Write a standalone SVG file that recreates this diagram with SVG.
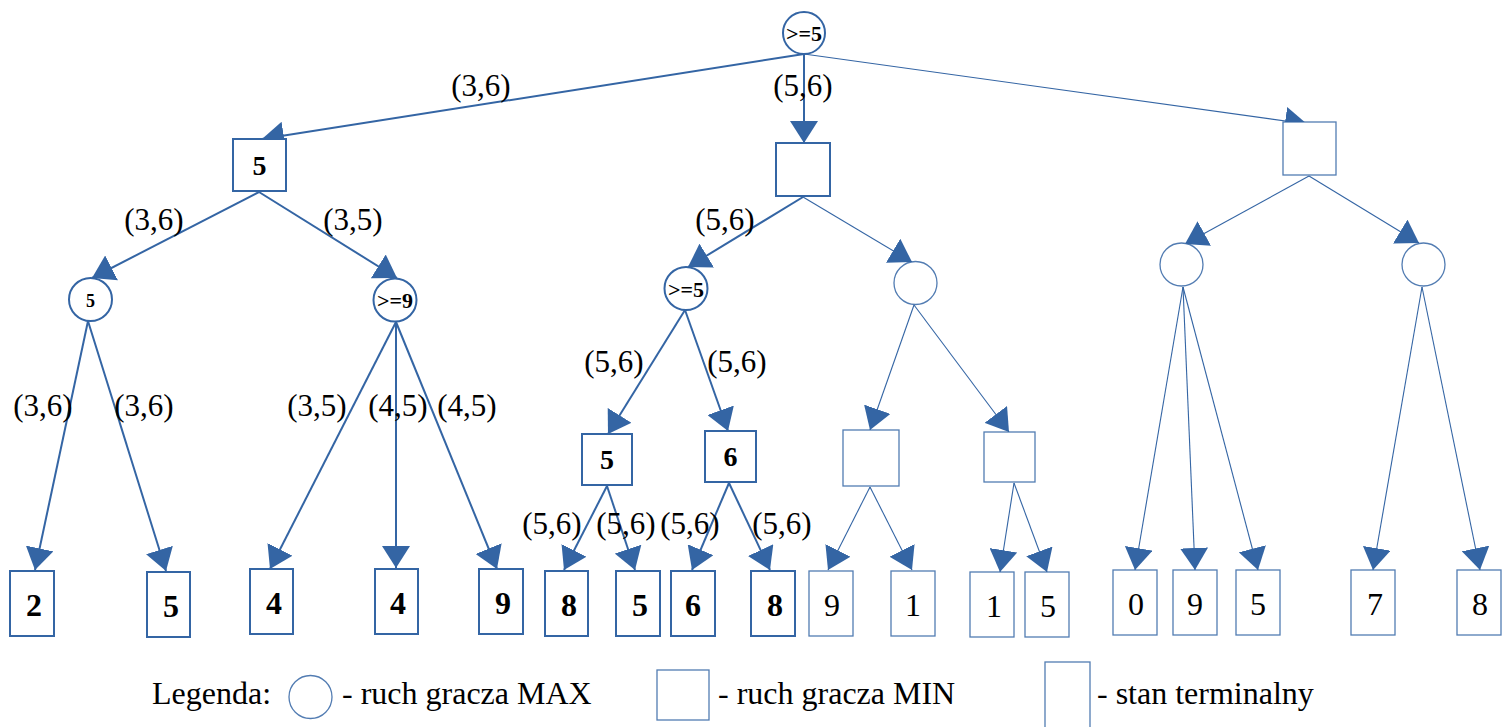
<svg xmlns="http://www.w3.org/2000/svg" width="1512" height="727" viewBox="0 0 1512 727">
<style>
.e{stroke:#3465a4;stroke-width:2;fill:none;marker-end:url(#ah)}
.et{stroke:#3465a4;stroke-width:1.1;fill:none;marker-end:url(#ah)}
.n{fill:#fff;stroke:#3465a4;stroke-width:2}
.nt{fill:#fff;stroke:#3465a4;stroke-width:1.3;stroke-opacity:0.85}
.lb{font-family:"Liberation Serif",serif;font-size:31px;fill:#000;text-anchor:middle}
.bn{font-family:"Liberation Serif",serif;font-size:28px;font-weight:bold;fill:#000;text-anchor:middle}
.cn{font-family:"Liberation Serif",serif;font-size:22px;font-weight:bold;fill:#000;text-anchor:middle}
.lf{font-family:"Liberation Serif",serif;font-size:32px;font-weight:bold;fill:#000;text-anchor:middle}
.lt{font-family:"Liberation Serif",serif;font-size:32px;fill:#000;text-anchor:middle}
.lg{font-family:"Liberation Serif",serif;font-size:32px;fill:#000}
</style>
<defs>
<marker id="ah" viewBox="0 0 22 28" refX="22" refY="14" markerWidth="22" markerHeight="28" markerUnits="userSpaceOnUse" orient="auto"><path d="M0,0 L22,14 L0,28 z" fill="#3465a4"/></marker>
</defs>
<rect width="1512" height="727" fill="#fff"/>
<g id="connectors">
<line class="e" x1="804" y1="54" x2="262" y2="139"/>
<line class="e" x1="804" y1="54" x2="804" y2="143"/>
<line class="et" x1="804" y1="54" x2="1307" y2="124"/>
<line class="e" x1="259" y1="192" x2="92" y2="278"/>
<line class="e" x1="259" y1="192" x2="397" y2="278"/>
<line class="e" x1="88" y1="321" x2="35" y2="570"/>
<line class="e" x1="88" y1="321" x2="166" y2="571"/>
<line class="e" x1="396" y1="322" x2="270" y2="569"/>
<line class="e" x1="396" y1="322" x2="396" y2="568"/>
<line class="e" x1="396" y1="322" x2="497" y2="569"/>
<line class="e" x1="803" y1="197" x2="688" y2="267"/>
<line class="et" x1="803" y1="197" x2="912" y2="262"/>
<line class="e" x1="685" y1="310" x2="608" y2="434"/>
<line class="e" x1="685" y1="310" x2="728" y2="431"/>
<line class="e" x1="607" y1="486" x2="564" y2="570"/>
<line class="e" x1="607" y1="486" x2="635" y2="570"/>
<line class="e" x1="729" y1="483" x2="692" y2="570"/>
<line class="e" x1="729" y1="483" x2="770" y2="570"/>
<line class="et" x1="914" y1="305" x2="870" y2="430"/>
<line class="et" x1="914" y1="305" x2="1009" y2="432"/>
<line class="et" x1="870" y1="487" x2="828" y2="570"/>
<line class="et" x1="870" y1="487" x2="912" y2="570"/>
<line class="et" x1="1014" y1="483" x2="1000" y2="572"/>
<line class="et" x1="1014" y1="483" x2="1047" y2="572"/>
<line class="et" x1="1309" y1="176" x2="1185" y2="244"/>
<line class="et" x1="1309" y1="176" x2="1419" y2="243"/>
<line class="et" x1="1183" y1="287" x2="1135" y2="570"/>
<line class="et" x1="1183" y1="287" x2="1195" y2="570"/>
<line class="et" x1="1183" y1="287" x2="1258" y2="570"/>
<line class="et" x1="1422" y1="287" x2="1373" y2="570"/>
<line class="et" x1="1422" y1="287" x2="1480" y2="570"/>
</g>
<g id="edge-labels">
<text class="lb" x="481" y="96">(3,6)</text>
<text class="lb" x="803" y="96">(5,6)</text>
<text class="lb" x="154" y="230">(3,6)</text>
<text class="lb" x="353" y="230">(3,5)</text>
<text class="lb" x="725" y="230">(5,6)</text>
<text class="lb" x="43" y="416">(3,6)</text>
<text class="lb" x="144" y="416">(3,6)</text>
<text class="lb" x="317" y="416">(3,5)</text>
<text class="lb" x="398" y="416">(4,5)</text>
<text class="lb" x="467" y="416">(4,5)</text>
<text class="lb" x="614" y="372">(5,6)</text>
<text class="lb" x="737" y="372">(5,6)</text>
<text class="lb" x="552" y="534">(5,6)</text>
<text class="lb" x="626" y="534">(5,6)</text>
<text class="lb" x="690" y="534">(5,6)</text>
<text class="lb" x="782" y="534">(5,6)</text>
</g>
<g id="root"><circle class="n" cx="804" cy="33" r="21"/><text class="cn" x="804" y="41">&gt;=5</text></g>
<g id="min-left"><rect class="n" x="233" y="139" width="53" height="52"/><text class="bn" x="259.5" y="175">5</text></g>
<g id="min-mid"><rect class="n" x="776" y="143" width="54" height="53"/></g>
<g id="min-right"><rect class="nt" x="1283" y="122" width="53" height="53"/></g>
<g id="max-a"><circle class="n" cx="90.5" cy="299.5" r="21.5"/><text class="cn" x="90.5" y="307" style="font-size:18px">5</text></g>
<g id="max-b"><circle class="n" cx="395" cy="300" r="21.5"/><text class="cn" x="395" y="308">&gt;=9</text></g>
<g id="max-c"><circle class="n" cx="686" cy="288.5" r="21.5"/><text class="cn" x="686" y="297">&gt;=5</text></g>
<g id="max-d"><circle class="nt" cx="915.5" cy="283" r="21.5"/></g>
<g id="max-e"><circle class="nt" cx="1181.5" cy="264.5" r="21.5"/></g>
<g id="max-f"><circle class="nt" cx="1423.5" cy="264.5" r="21.5"/></g>
<g id="min-c1"><rect class="n" x="582" y="434" width="50" height="51"/><text class="bn" x="607" y="469">5</text></g>
<g id="min-c2"><rect class="n" x="705" y="431" width="51" height="51"/><text class="bn" x="730.5" y="466">6</text></g>
<g id="min-d1"><rect class="nt" x="843" y="430" width="56" height="56"/></g>
<g id="min-d2"><rect class="nt" x="984" y="432" width="51" height="50"/></g>
<g id="leaf-1"><rect class="n" x="10" y="571" width="44" height="65"/><text class="lf" x="34" y="616">2</text></g>
<g id="leaf-2"><rect class="n" x="147" y="572" width="43" height="65"/><text class="lf" x="171" y="617">5</text></g>
<g id="leaf-3"><rect class="n" x="250" y="569" width="43" height="65"/><text class="lf" x="274" y="614">4</text></g>
<g id="leaf-4"><rect class="n" x="375" y="569" width="43" height="65"/><text class="lf" x="398" y="614">4</text></g>
<g id="leaf-5"><rect class="n" x="479" y="569" width="44" height="65"/><text class="lf" x="503" y="614">9</text></g>
<g id="leaf-6"><rect class="n" x="545" y="571" width="43" height="65"/><text class="lf" x="569" y="616">8</text></g>
<g id="leaf-7"><rect class="n" x="616" y="571" width="44" height="65"/><text class="lf" x="640" y="616">5</text></g>
<g id="leaf-8"><rect class="n" x="671" y="571" width="44" height="65"/><text class="lf" x="693" y="616">6</text></g>
<g id="leaf-9"><rect class="n" x="751" y="571" width="44" height="65"/><text class="lf" x="775" y="616">8</text></g>
<g id="leaf-10"><rect class="nt" x="809" y="571" width="44" height="65"/><text class="lt" x="832" y="616">9</text></g>
<g id="leaf-11"><rect class="nt" x="891" y="571" width="44" height="65"/><text class="lt" x="913" y="616">1</text></g>
<g id="leaf-12"><rect class="nt" x="970" y="572" width="44" height="65"/><text class="lt" x="994" y="617">1</text></g>
<g id="leaf-13"><rect class="nt" x="1025" y="572" width="44" height="65"/><text class="lt" x="1048" y="617">5</text></g>
<g id="leaf-14"><rect class="nt" x="1113" y="570" width="44" height="65"/><text class="lt" x="1136" y="615">0</text></g>
<g id="leaf-15"><rect class="nt" x="1173" y="570" width="44" height="65"/><text class="lt" x="1195" y="615">9</text></g>
<g id="leaf-16"><rect class="nt" x="1236" y="570" width="44" height="65"/><text class="lt" x="1258" y="615">5</text></g>
<g id="leaf-17"><rect class="nt" x="1351" y="570" width="44" height="65"/><text class="lt" x="1375" y="615">7</text></g>
<g id="leaf-18"><rect class="nt" x="1457" y="570" width="44" height="65"/><text class="lt" x="1480" y="615">8</text></g>
<g id="legend">
<text class="lg" x="152" y="704">Legenda:</text>
<circle class="nt" cx="310.5" cy="697" r="21.5"/>
<text class="lg" x="342" y="704">- ruch gracza MAX</text>
<rect class="nt" x="657" y="670" width="52" height="50"/>
<text class="lg" x="718" y="704">- ruch gracza MIN</text>
<rect class="nt" x="1045" y="662" width="45" height="70"/>
<text class="lg" x="1097" y="704">- stan terminalny</text>
</g>
</svg>
